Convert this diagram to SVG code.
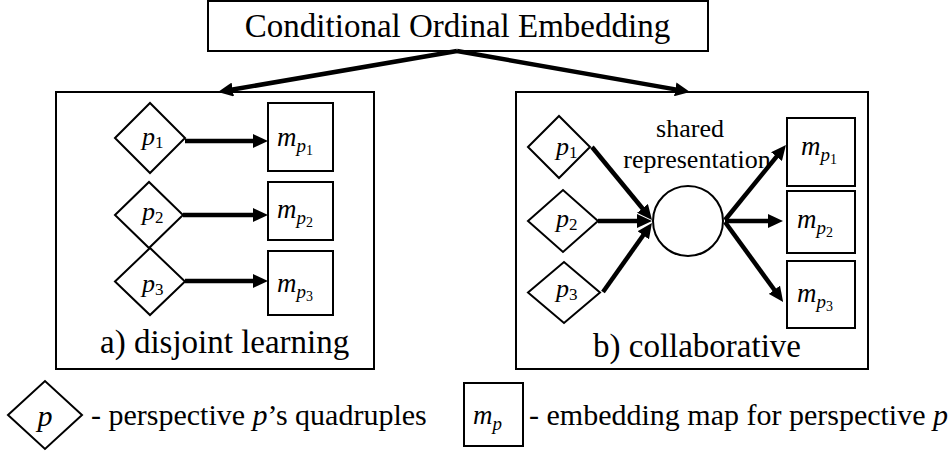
<svg xmlns="http://www.w3.org/2000/svg" width="948" height="452" viewBox="0 0 948 452">
<style>
.sh{fill:#fff;stroke:#000;stroke-width:2}
.c{stroke:#000;stroke-width:4.5;fill:none;marker-end:url(#ah)}
</style>
<defs>
<marker id="ah" viewBox="0 0 15 14" refX="3" refY="7" markerWidth="15" markerHeight="14" markerUnits="userSpaceOnUse" orient="auto">
<path d="M0,0 L15,7 L0,14 Z" fill="#000"/>
</marker>
</defs>
<rect width="948" height="452" fill="#fff"/>
<g id="title">
<rect class="sh" x="208" y="1" width="500" height="50"/>
<text font-family="Liberation Serif, serif" x="457.5" y="37" font-size="33" text-anchor="middle">Conditional Ordinal Embedding</text>
</g>
<g id="disjoint">
<rect class="sh" x="56" y="92" width="318" height="277"/>
<text font-family="Liberation Serif, serif" x="100" y="353" font-size="33">a) disjoint learning</text>
</g>
<g id="collab">
<rect class="sh" x="516" y="92" width="352" height="277"/>
<text font-family="Liberation Serif, serif" x="593" y="357" font-size="33">b) collaborative</text>
</g>
<g id="a-p1"><polygon class="sh" points="115,138 150,103 185,138 150,173"/><text font-family="Liberation Serif, serif" font-style="italic" x="142" y="145" font-size="26">p<tspan font-style="normal" font-size="17" dy="3">1</tspan></text></g>
<g id="a-p2"><polygon class="sh" points="115,215 149,182 183,215 149,248"/><text font-family="Liberation Serif, serif" font-style="italic" x="142" y="220" font-size="26">p<tspan font-style="normal" font-size="17" dy="3">2</tspan></text></g>
<g id="a-p3"><polygon class="sh" points="115,281.5 150,248 185,281.5 150,315"/><text font-family="Liberation Serif, serif" font-style="italic" x="142" y="292" font-size="26">p<tspan font-style="normal" font-size="17" dy="3">3</tspan></text></g>
<g id="a-m1"><rect class="sh" x="268" y="103" width="65" height="68"/><text font-family="Liberation Serif, serif" font-style="italic" x="277" y="146" font-size="27">m<tspan font-size="19" dy="6">p</tspan><tspan font-style="normal" font-size="14" dy="3">1</tspan></text></g>
<g id="a-m2"><rect class="sh" x="268" y="182" width="65" height="58"/><text font-family="Liberation Serif, serif" font-style="italic" x="277" y="218" font-size="27">m<tspan font-size="19" dy="6">p</tspan><tspan font-style="normal" font-size="14" dy="3">2</tspan></text></g>
<g id="a-m3"><rect class="sh" x="268" y="251" width="65" height="64"/><text font-family="Liberation Serif, serif" font-style="italic" x="277" y="292" font-size="27">m<tspan font-size="19" dy="6">p</tspan><tspan font-style="normal" font-size="14" dy="3">3</tspan></text></g>
<g id="b-p1"><polygon class="sh" points="528,147 559,116 590,147 559,178"/><text font-family="Liberation Serif, serif" font-style="italic" x="556" y="155" font-size="26">p<tspan font-style="normal" font-size="17" dy="3">1</tspan></text></g>
<g id="b-p2"><polygon class="sh" points="528,221 563,190 598,221 563,252"/><text font-family="Liberation Serif, serif" font-style="italic" x="556" y="227" font-size="26">p<tspan font-style="normal" font-size="17" dy="3">2</tspan></text></g>
<g id="b-p3"><polygon class="sh" points="528,292.5 564,262 600,292.5 564,323"/><text font-family="Liberation Serif, serif" font-style="italic" x="556" y="297" font-size="26">p<tspan font-style="normal" font-size="17" dy="3">3</tspan></text></g>
<g id="shared"><circle class="sh" cx="688" cy="221" r="35"/><text font-family="Liberation Serif, serif" x="690" y="137" font-size="26" text-anchor="middle">shared</text><text font-family="Liberation Serif, serif" x="697" y="168" font-size="26" text-anchor="middle">representation</text></g>
<g id="b-m1"><rect class="sh" x="787" y="118" width="68" height="68"/><text font-family="Liberation Serif, serif" font-style="italic" x="801" y="155" font-size="27">m<tspan font-size="19" dy="6">p</tspan><tspan font-style="normal" font-size="14" dy="3">1</tspan></text></g>
<g id="b-m2"><rect class="sh" x="787" y="191" width="68" height="62"/><text font-family="Liberation Serif, serif" font-style="italic" x="797" y="228" font-size="27">m<tspan font-size="19" dy="6">p</tspan><tspan font-style="normal" font-size="14" dy="3">2</tspan></text></g>
<g id="b-m3"><rect class="sh" x="787" y="261" width="68" height="67"/><text font-family="Liberation Serif, serif" font-style="italic" x="797" y="302" font-size="27">m<tspan font-size="19" dy="6">p</tspan><tspan font-style="normal" font-size="14" dy="3">3</tspan></text></g>
<g id="connectors">
<line class="c" x1="457" y1="51" x2="229.8" y2="90"/>
<line class="c" x1="457" y1="51" x2="678.2" y2="89.9"/>
<line class="c" x1="185" y1="141" x2="256" y2="141"/>
<line class="c" x1="183" y1="215" x2="256" y2="215"/>
<line class="c" x1="185" y1="281" x2="256" y2="281"/>
<line class="c" x1="592" y1="147" x2="644.4" y2="210.7"/>
<line class="c" x1="598" y1="221" x2="640" y2="221"/>
<line class="c" x1="603" y1="292" x2="645" y2="232.8"/>
<line class="c" x1="725" y1="220" x2="778.4" y2="154.3"/>
<line class="c" x1="725" y1="221" x2="771" y2="221"/>
<line class="c" x1="725" y1="222" x2="776.1" y2="292.2"/>
</g>
<g id="legend">
<g id="leg-p"><polygon class="sh" points="8,415 45,381 82,415 45,449"/><text font-family="Liberation Serif, serif" font-style="italic" x="45" y="426" font-size="30" text-anchor="middle">p</text></g>
<text font-family="Liberation Serif, serif" x="91" y="425" font-size="30">- perspective <tspan font-style="italic">p</tspan>&#8217;s quadruples</text>
<g id="leg-m"><rect class="sh" x="464" y="383" width="59" height="63"/><text font-family="Liberation Serif, serif" font-style="italic" x="473" y="424" font-size="27">m<tspan font-size="19" dy="6">p</tspan></text></g>
<text font-family="Liberation Serif, serif" x="529" y="425" font-size="30">- embedding map for perspective <tspan font-style="italic">p</tspan></text>
</g>
</svg>
